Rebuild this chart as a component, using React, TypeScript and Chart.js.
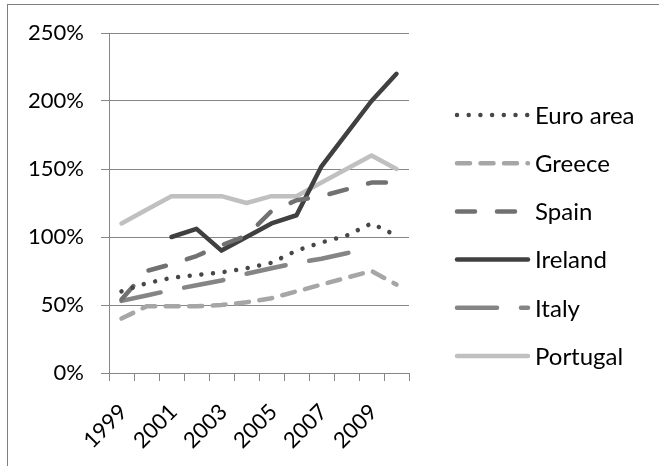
import React, { useEffect, useRef } from "react";
import { Chart, registerables } from "chart.js";

Chart.register(...registerables);

// Years on the category axis
const years = ["1999", "2000", "2001", "2002", "2003", "2004", "2005", "2006", "2007", "2008", "2009", "2010"];
// Only every other year is labelled
const xTickLabels = ["1999", "", "2001", "", "2003", "", "2005", "", "2007", "", "2009", ""];

// Series values, in percent
const euroArea = [60, 66, 70, 72, 74, 77, 81, 90, 96, 101, 110, 101];
const greece = [40, 49, 49, 49, 50, 52, 55, 60, 65, 70, 75, 65];
const spain = [54, 75, 80, 86, 94, 101, 119, 127, 130, 135, 140, 140];
const ireland = [null, null, 100, 106, 90, 100, 110, 116, 152, 176, 200, 220];
const italy = [53, 57, 61, 64.5, 68, 73, 77, 81, 84, 88, 92, null];
const portugal = [110, 120, 130, 130, 130, 125, 130, 130, 140, 150, 160, 150];

const seriesNames = ["Euro area", "Greece", "Spain", "Ireland", "Italy", "Portugal"];
const seriesValues = [euroArea, greece, spain, ireland, italy, portugal];
const seriesColors = ["#474747", "#a6a6a6", "#717171", "#404040", "#858585", "#c0c0c0"];
const seriesDashes: number[][] = [[0.001, 11.7], [13, 10.5], [18, 22], [], [40, 24], []];

const FONT = "Lato, 'Open Sans', sans-serif";
const GRID = "#868686";

// Legend drawn to the right of the plot with real dashed line samples
const sideLegend = {
  id: "sideLegend",
  afterDraw(chart: any) {
    const ctx = chart.ctx;
    const x0 = 457;
    const x1 = 528;
    const top = 115;
    const step = 48.2;
    ctx.save();
    chart.data.datasets.forEach((ds: any, i: number) => {
      const y = top + step * i;
      ctx.beginPath();
      ctx.strokeStyle = ds.borderColor;
      ctx.lineWidth = ds.borderWidth;
      ctx.lineCap = "round";
      ctx.setLineDash(ds.borderDash || []);
      ctx.moveTo(x0, y);
      ctx.lineTo(x1, y);
      ctx.stroke();
      ctx.setLineDash([]);
      ctx.fillStyle = "#000";
      ctx.font = `24px ${FONT}`;
      ctx.textBaseline = "middle";
      ctx.textAlign = "left";
      ctx.fillText(ds.label, 535, y + 1);
    });
    ctx.restore();
  },
};

export default function App() {
  const ref = useRef<HTMLCanvasElement | null>(null);

  useEffect(() => {
    if (!ref.current) return;
    const chart = new Chart(ref.current, {
      type: "line",
      data: {
        labels: years,
        datasets: seriesNames.map((name, i) => ({
          label: name,
          data: seriesValues[i],
          borderColor: seriesColors[i],
          backgroundColor: seriesColors[i],
          borderWidth: 4.5,
          borderDash: seriesDashes[i],
          borderCapStyle: "round",
          borderJoinStyle: "round",
          pointRadius: 0,
          tension: 0,
          spanGaps: false,
          fill: false,
        })),
      },
      options: {
        responsive: false,
        animation: false,
        layout: { padding: { left: 0, top: 33, right: 250, bottom: 0 } },
        plugins: { legend: { display: false }, tooltip: { enabled: false } },
        scales: {
          x: {
            type: "category",
            offset: true,
            grid: { offset: true, drawOnChartArea: false, drawTicks: true, tickLength: 8, color: GRID },
            border: { color: GRID, width: 1 },
            ticks: {
              autoSkip: false,
              maxRotation: 45,
              minRotation: 45,
              padding: 18,
              labelOffset: 2,
              color: "#000",
              font: { family: FONT, size: 22 },
              callback: (_v: any, i: number) => xTickLabels[i],
            },
            afterFit: (scale: any) => {
              scale.height = 93;
            },
          },
          y: {
            min: 0,
            max: 250,
            grid: { color: GRID, tickLength: 8, drawTicks: true },
            border: { color: GRID, width: 1 },
            ticks: {
              stepSize: 50,
              padding: 17,
              color: "#000",
              font: { family: FONT, size: 22 },
              callback: (v: any) => `${v}%`,
            },
            afterFit: (scale: any) => {
              scale.width = 109;
            },
          },
        },
      },
      plugins: [sideLegend],
    });
    return () => chart.destroy();
  }, []);

  return (
    <div style={{ position: "absolute", left: 0, top: 0, width: 659, height: 466, overflow: "hidden", background: "#fff" }}>
      <div
        style={{
          position: "absolute",
          left: 7,
          top: 4,
          width: 700,
          height: 500,
          borderLeft: "1px solid #7f7f7f",
          borderTop: "1px solid #7f7f7f",
        }}
      />
      <canvas ref={ref} width={659} height={466} style={{ position: "absolute", left: 0, top: 0 }} />
    </div>
  );
}
